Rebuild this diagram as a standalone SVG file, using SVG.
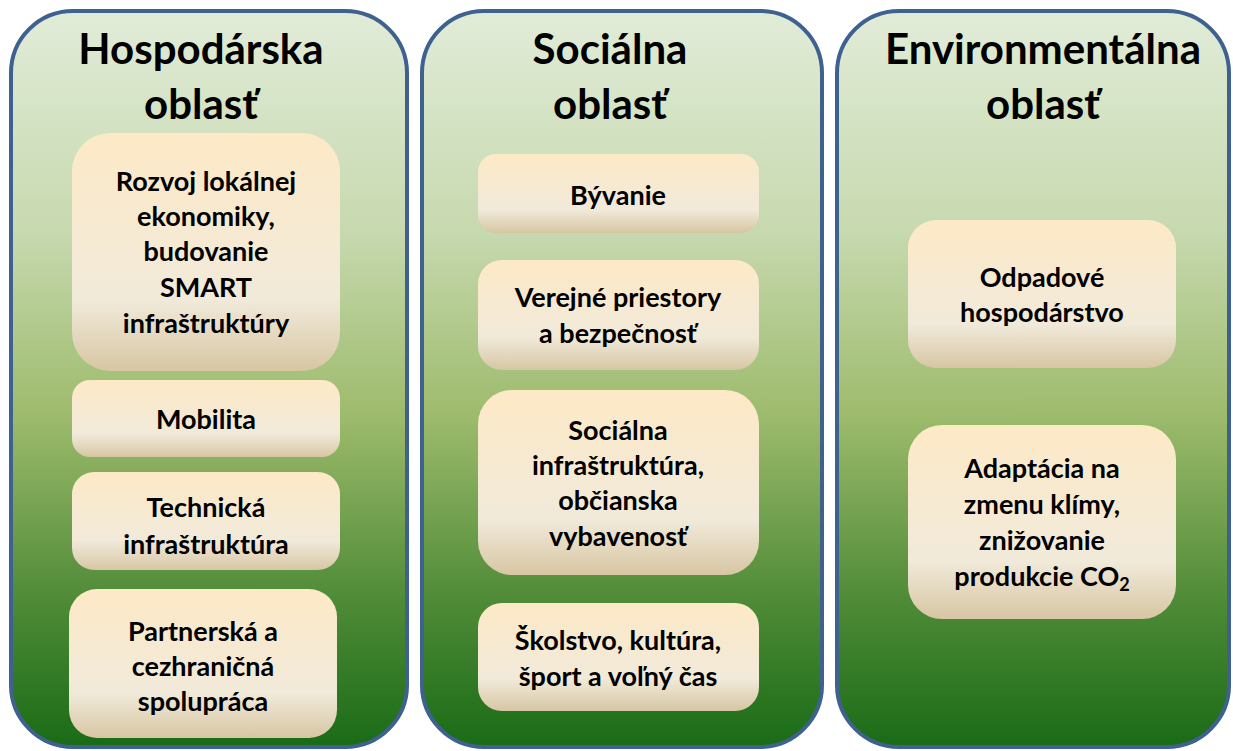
<svg xmlns="http://www.w3.org/2000/svg" width="1233" height="751" viewBox="0 0 1233 751">
<defs>
<linearGradient id="panelGrad" x1="0" y1="0" x2="0" y2="1">
<stop offset="0" stop-color="#e1ecd8"/>
<stop offset="0.3" stop-color="#c7d9af"/>
<stop offset="0.55" stop-color="#9dbb6c"/>
<stop offset="0.8" stop-color="#4f8b37"/>
<stop offset="1" stop-color="#1a6b16"/>
</linearGradient>
<linearGradient id="boxGrad" x1="0" y1="0" x2="0" y2="1">
<stop offset="0" stop-color="#fde9c6"/>
<stop offset="0.7" stop-color="#f1eada"/>
<stop offset="1" stop-color="#d7c6a3"/>
</linearGradient>
<style>
.panel{fill:url(#panelGrad);stroke:#3e6190;stroke-width:4}
.box{fill:url(#boxGrad);stroke:none}
.hdr{font-family:Lato,"Liberation Sans",sans-serif;font-weight:bold;font-size:42px;fill:#000;text-anchor:middle}
.t{font-family:Lato,"Liberation Sans",sans-serif;font-weight:bold;font-size:27px;fill:#000;text-anchor:middle}
</style>
</defs>
<g id="panel-hospodarska">
<rect class="panel" x="11" y="11" width="396" height="736" rx="62"/>
<text class="hdr" x="201" y="64">Hospodárska</text>
<text class="hdr" x="201" y="119">oblasť</text>
</g>
<g id="panel-socialna">
<rect class="panel" x="422" y="11" width="400" height="736" rx="62"/>
<text class="hdr" x="610" y="64">Sociálna</text>
<text class="hdr" x="610" y="119">oblasť</text>
</g>
<g id="panel-environmentalna">
<rect class="panel" x="837" y="11" width="392" height="736" rx="62"/>
<text class="hdr" x="1043" y="64">Environmentálna</text>
<text class="hdr" x="1043" y="119">oblasť</text>
</g>
<g id="box-rozvoj">
<rect class="box" x="72" y="133" width="268" height="238" rx="38"/>
<text class="t" x="206" y="191">Rozvoj lokálnej</text>
<text class="t" x="206" y="226">ekonomiky,</text>
<text class="t" x="206" y="261">budovanie</text>
<text class="t" x="206" y="297">SMART</text>
<text class="t" x="206" y="333">infraštruktúry</text>
</g>
<g id="box-mobilita">
<rect class="box" x="72" y="380" width="268" height="77" rx="18"/>
<text class="t" x="206" y="429">Mobilita</text>
</g>
<g id="box-technicka">
<rect class="box" x="72" y="472" width="268" height="98" rx="22"/>
<text class="t" x="206" y="517">Technická</text>
<text class="t" x="206" y="554">infraštruktúra</text>
</g>
<g id="box-partnerska">
<rect class="box" x="69" y="589" width="268" height="149" rx="28"/>
<text class="t" x="203" y="641">Partnerská a</text>
<text class="t" x="203" y="676">cezhraničná</text>
<text class="t" x="203" y="711">spolupráca</text>
</g>
<g id="box-byvanie">
<rect class="box" x="478" y="154" width="281" height="79" rx="18"/>
<text class="t" x="618" y="205">Bývanie</text>
</g>
<g id="box-verejne">
<rect class="box" x="478" y="260" width="281" height="110" rx="24"/>
<text class="t" x="618" y="307">Verejné priestory</text>
<text class="t" x="618" y="343">a bezpečnosť</text>
</g>
<g id="box-socialna-infra">
<rect class="box" x="478" y="390" width="281" height="185" rx="34"/>
<text class="t" x="618" y="440">Sociálna</text>
<text class="t" x="618" y="475">infraštruktúra,</text>
<text class="t" x="618" y="510">občianska</text>
<text class="t" x="618" y="546">vybavenosť</text>
</g>
<g id="box-skolstvo">
<rect class="box" x="478" y="603" width="281" height="108" rx="24"/>
<text class="t" x="618" y="650">Školstvo, kultúra,</text>
<text class="t" x="618" y="686">šport a voľný čas</text>
</g>
<g id="box-odpadove">
<rect class="box" x="908" y="220" width="268" height="148" rx="28"/>
<text class="t" x="1042" y="287">Odpadové</text>
<text class="t" x="1042" y="322">hospodárstvo</text>
</g>
<g id="box-adaptacia">
<rect class="box" x="908" y="425" width="268" height="194" rx="34"/>
<text class="t" x="1042" y="478">Adaptácia na</text>
<text class="t" x="1042" y="514">zmenu klímy,</text>
<text class="t" x="1042" y="550">znižovanie</text>
<text class="t" x="1042" y="586">produkcie CO<tspan font-size="18" dy="5">2</tspan></text>
</g>
<g id="connectors"/>
</svg>
